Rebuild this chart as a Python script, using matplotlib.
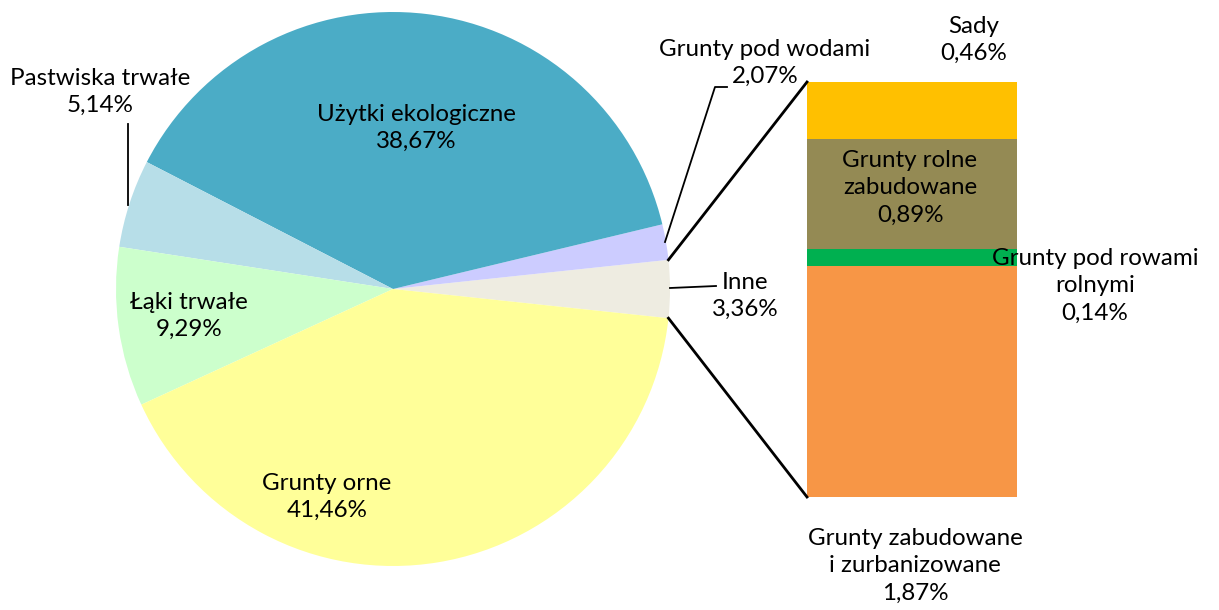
import numpy as np
import matplotlib
matplotlib.use('Agg')
from matplotlib import pyplot as plt

plt.rcParams['font.family'] = ['Lato', 'DejaVu Sans']

# pie data (counterclockwise, starting with "Inne")
pie_labels = ['Inne', 'Grunty pod wodami', 'Użytki ekologiczne',
              'Pastwiska trwałe', 'Łąki trwałe', 'Grunty orne']
pie_values = [3.36, 2.07, 38.67, 5.14, 9.29, 41.46]
pie_colors = ['#EEECE1', '#CCCCFF', '#4BACC6', '#B7DEE8', '#CCFFCC', '#FFFF99']

# breakdown of "Inne" (bottom to top)
bar_labels = ['Grunty zabudowane\ni zurbanizowane', 'Grunty pod rowami\nrolnymi',
              'Grunty rolne\nzabudowane', 'Sady']
bar_values = [1.87, 0.14, 0.89, 0.46]
bar_colors = ['#F79646', '#00B050', '#948A54', '#FFC000']

W, H = 1219, 610
fig = plt.figure(figsize=(W / 100, H / 100), dpi=100)
ax = fig.add_axes([0, 0, 1, 1])


def Y(y_img):
    return H - y_img


def fmt(v):
    return '{:.2f}%'.format(v).replace('.', ',')


cx, cy, r = 393, Y(289), 277
start = -360 * pie_values[0] / 100 / 2
ax.pie(pie_values, colors=pie_colors, startangle=start, counterclock=True,
       center=(cx, cy), radius=r, wedgeprops=dict(linewidth=0),
       frame=True)
ax.set_xlim(0, W)
ax.set_ylim(0, H)
ax.set_aspect('auto')
ax.axis('off')

fs = 17.4
ls = 1.38
txt = dict(ha='center', va='center', fontsize=fs, linespacing=ls)
pie_pos = {'Użytki ekologiczne': (416, 128), 'Grunty orne': (327, 497),
           'Łąki trwałe': (189, 316), 'Pastwiska trwałe': (100, 92),
           'Grunty pod wodami': (765, 63), 'Inne': (745, 296)}
for lab, val in zip(pie_labels, pie_values):
    x, y = pie_pos[lab]
    ax.text(x, Y(y), '{}\n{}'.format(lab, fmt(val)), **txt)

# leader lines
ax.plot([128, 128], [Y(205), Y(124)], color='black', lw=1.3)
ax.plot([665, 715, 727], [Y(242), Y(87), Y(87)], color='black', lw=1.3)
ax.plot([670, 716], [Y(288), Y(286)], color='black', lw=1.3)

# bar of pie
bx0, bx1, by0, by1 = 807, 1017, 82, 497
bax = fig.add_axes([bx0 / W, Y(by1) / H, (bx1 - bx0) / W, (by1 - by0) / H])
bax.set_zorder(-1)
bottoms = np.concatenate([[0], np.cumsum(bar_values)[:-1]])
bax.bar([0] * len(bar_values), bar_values, bottom=bottoms, width=1,
        color=bar_colors, linewidth=0)
bax.set_xlim(-0.5, 0.5)
bax.set_ylim(0, sum(bar_values))
bax.axis('off')

bar_pos = [(915, 566), (1095, 286), (910, 188), (974, 40)]
for lab, val, (x, y) in zip(bar_labels, bar_values, bar_pos):
    ax.text(x, Y(y), '{}\n{}'.format(lab, fmt(val)), **txt)

# connectors from "Inne" wedge to the bar
a0 = np.radians(start)
a1 = np.radians(start + 360 * pie_values[0] / 100)
ax.plot([cx + r * np.cos(a1), bx0], [cy + r * np.sin(a1), Y(by0)],
        color='black', lw=2)
ax.plot([cx + r * np.cos(a0), bx0], [cy + r * np.sin(a0), Y(by1)],
        color='black', lw=2)

fig.savefig('out.png', dpi=100)
